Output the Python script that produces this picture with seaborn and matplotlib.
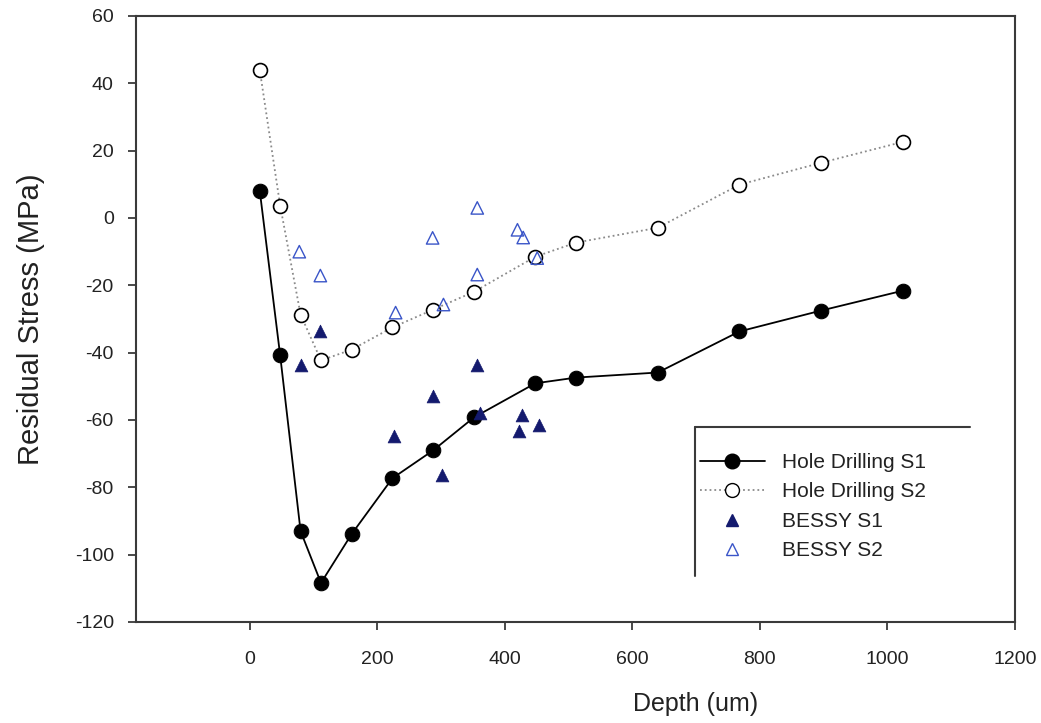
import matplotlib
matplotlib.use("Agg")
import matplotlib.pyplot as plt
import seaborn as sns
from matplotlib.lines import Line2D

# ---- data ----
hd_depth = [16, 48, 80, 112, 160, 224, 288, 352, 448, 512, 640, 768, 896, 1024]
hd_s1 = [8.1, -40.8, -93.0, -108.4, -93.9, -77.3, -69.0, -59.2, -49.1, -47.4, -45.9, -33.7, -27.5, -21.6]
hd_s2 = [44.0, 3.7, -28.7, -42.3, -39.1, -32.5, -27.2, -21.9, -11.5, -7.3, -2.9, 9.9, 16.4, 22.6]

bessy1_depth = [80, 110, 226, 287, 302, 357, 362, 422, 427, 454]
bessy1_stress = [-43.8, -33.7, -64.9, -52.9, -76.4, -43.8, -58.0, -63.3, -58.6, -61.6]

bessy2_depth = [78, 111, 229, 287, 304, 357, 357, 420, 429, 451]
bessy2_stress = [-10.0, -17.1, -28.1, -5.9, -25.7, 3.0, -16.8, -3.5, -5.8, -11.9]

x_ticks = [0, 200, 400, 600, 800, 1000, 1200]
y_ticks = [-120, -100, -80, -60, -40, -20, 0, 20, 40, 60]

series_labels = ["Hole Drilling S1", "Hole Drilling S2", "BESSY S1", "BESSY S2"]

# ---- style ----
sns.set_theme(style="ticks")
plt.rcParams["font.family"] = ["Liberation Sans", "DejaVu Sans"]
plt.rcParams["axes.unicode_minus"] = False
plt.rcParams["axes.edgecolor"] = "#3a3a3a"
plt.rcParams["axes.linewidth"] = 1.5
plt.rcParams["xtick.color"] = "#3a3a3a"
plt.rcParams["ytick.color"] = "#3a3a3a"

W, H = 1041, 723
L, R, T, B = 136, 1015, 16, 622
fig = plt.figure(figsize=(W / 100, H / 100), dpi=100)
ax = fig.add_axes([L / W, 1 - B / H, (R - L) / W, (B - T) / H])

def ax_x(px):
    return (px - L) / (R - L)

def ax_y(py):
    return (B - py) / (B - T)

s2_line_color = "#8a8a8a"
b1_color = "#141a6e"
b2_color = "#3a55c8"

sns.lineplot(x=hd_depth, y=hd_s1, ax=ax, sort=False, estimator=None,
             color="black", linewidth=1.3, marker="o", markersize=10.5,
             markerfacecolor="black", markeredgecolor="black",
             label=series_labels[0])
sns.lineplot(x=hd_depth, y=hd_s2, ax=ax, sort=False, estimator=None,
             color=s2_line_color, linewidth=1.3, linestyle=":", marker="o",
             markersize=10, markerfacecolor="white", markeredgecolor="black",
             markeredgewidth=1.2, label=series_labels[1])
sns.scatterplot(x=bessy1_depth, y=bessy1_stress, ax=ax, marker="^", s=85,
                color=b1_color, edgecolor=b1_color, linewidth=0.5,
                label=series_labels[2], zorder=3)
sns.scatterplot(x=bessy2_depth, y=bessy2_stress, ax=ax, marker="^", s=80,
                facecolors="none", edgecolor=b2_color, linewidth=1.0,
                label=series_labels[3], zorder=3)

ax.set_xlim(-178, 1200)
ax.set_ylim(-120, 60)
ax.set_xticks(x_ticks)
ax.set_yticks(y_ticks)
ax.tick_params(axis="both", direction="out", length=6, width=1.3,
               labelsize=14, labelcolor="#222222", top=False, right=False)
ax.tick_params(axis="x", pad=15)
ax.tick_params(axis="y", pad=10)
for sp in ax.spines.values():
    sp.set_visible(True)
    sp.set_color("#3a3a3a")
    sp.set_linewidth(1.5)

ax.set_xlabel("Depth (um)", fontsize=18, color="#222222")
ax.set_ylabel("Residual Stress (MPa)", fontsize=21, color="#222222")
ax.xaxis.set_label_coords(ax_x(696), ax_y(704), transform=ax.transAxes)
ax.yaxis.set_label_coords(ax_x(31), 0.5, transform=ax.transAxes)
ax.xaxis.label.set_va("center")
ax.yaxis.label.set_va("center")

handles = [
    Line2D([], [], color="black", linewidth=1.3, marker="o", markersize=10.5,
           markerfacecolor="black", markeredgecolor="black"),
    Line2D([], [], color=s2_line_color, linewidth=1.3, linestyle=":", marker="o",
           markersize=10, markerfacecolor="white", markeredgecolor="black"),
    Line2D([], [], linestyle="none", marker="^", markersize=8,
           markerfacecolor=b1_color, markeredgecolor=b1_color),
    Line2D([], [], linestyle="none", marker="^", markersize=8,
           markerfacecolor="none", markeredgecolor=b2_color),
]
leg = ax.legend(handles, series_labels, loc="upper left",
                bbox_to_anchor=(ax_x(700), ax_y(453)), fontsize=15,
                frameon=False, handlelength=3.1, handletextpad=0.85,
                labelspacing=0.5, borderpad=0, borderaxespad=0)
for t in leg.get_texts():
    t.set_color("#222222")

# legend frame: only top and left edges visible, as in the reference
ax.add_line(Line2D([ax_x(695), ax_x(970)], [ax_y(427), ax_y(427)],
                   transform=ax.transAxes, color="#3a3a3a", linewidth=1.5,
                   clip_on=False))
ax.add_line(Line2D([ax_x(695), ax_x(695)], [ax_y(427), ax_y(576)],
                   transform=ax.transAxes, color="#3a3a3a", linewidth=1.5,
                   clip_on=False))

fig.savefig("out.png", dpi=100)
